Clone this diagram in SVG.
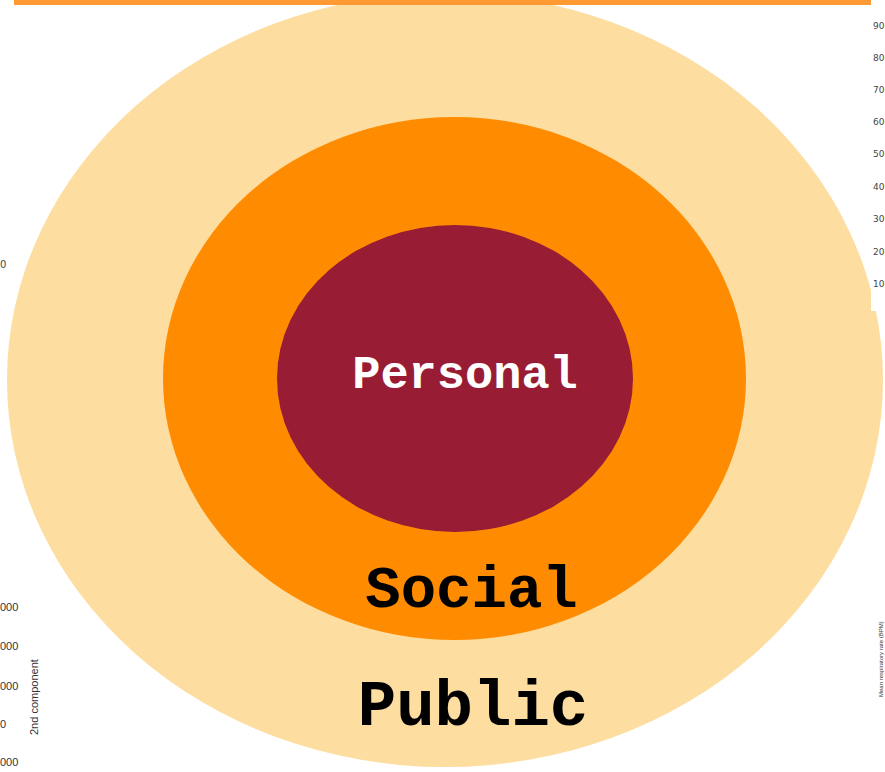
<svg xmlns="http://www.w3.org/2000/svg" width="885" height="772" viewBox="0 0 885 772">
  <style>
    .ring-label { font-family: "Liberation Mono", "Courier New", monospace; font-weight: bold; text-anchor: middle; }
    .axis { font-family: "DejaVu Sans", "Liberation Sans", sans-serif; fill: #444; }
    .axis-sm { font-family: "Liberation Sans", "DejaVu Sans", sans-serif; fill: #333; }
  </style>
  <rect width="885" height="772" fill="#ffffff"/>

  <!-- stray axis text along the edges -->
  <g id="axis-left">
    <text class="axis" x="0" y="268" font-size="10">0</text>
    <text class="axis-sm" x="0" y="611" font-size="11">000</text>
    <text class="axis-sm" x="0" y="650" font-size="11">000</text>
    <text class="axis-sm" x="0" y="690" font-size="11">000</text>
    <text class="axis-sm" x="0" y="728" font-size="11">0</text>
    <text class="axis-sm" x="0" y="766" font-size="11">000</text>
    <text class="axis-sm" font-size="11" transform="translate(38,735) rotate(-90)">2nd component</text>
  </g>

  <!-- outer ring -->
  <g id="public">
    <ellipse cx="445" cy="380" rx="438" ry="387" fill="#FDDDA0"/>
  </g>

  <!-- right axis strip -->
  <g id="axis-right">
    <rect x="871" y="0" width="14" height="311" fill="#ffffff"/>
    <text class="axis" x="873" y="29" font-size="9">90</text>
    <text class="axis" x="873" y="61" font-size="9">80</text>
    <text class="axis" x="873" y="93" font-size="9">70</text>
    <text class="axis" x="873" y="125" font-size="9">60</text>
    <text class="axis" x="873" y="157" font-size="9">50</text>
    <text class="axis" x="873" y="190" font-size="9">40</text>
    <text class="axis" x="873" y="222" font-size="9">30</text>
    <text class="axis" x="873" y="255" font-size="9">20</text>
    <text class="axis" x="873" y="287" font-size="9">10</text>
    <text class="axis-sm" font-size="6" transform="translate(883,697) rotate(-90)">Mean respiratory rate (BPM)</text>
  </g>

  <!-- middle ring -->
  <g id="social">
    <ellipse cx="454.5" cy="378.5" rx="291.5" ry="261.5" fill="#FF8C00"/>
  </g>

  <!-- inner ring -->
  <g id="personal">
    <ellipse cx="455" cy="378.5" rx="178" ry="153.5" fill="#981C33"/>
  </g>

  <!-- labels -->
  <g id="labels">
    <text class="ring-label" x="465" y="388" font-size="47" fill="#ffffff">Personal</text>
    <text class="ring-label" x="471.5" y="607" font-size="59" fill="#000000">Social</text>
    <text class="ring-label" x="473" y="725" font-size="64" fill="#000000">Public</text>
  </g>

  <!-- top bar -->
  <rect x="14" y="0" width="857" height="5" fill="#FF9933"/>
</svg>
